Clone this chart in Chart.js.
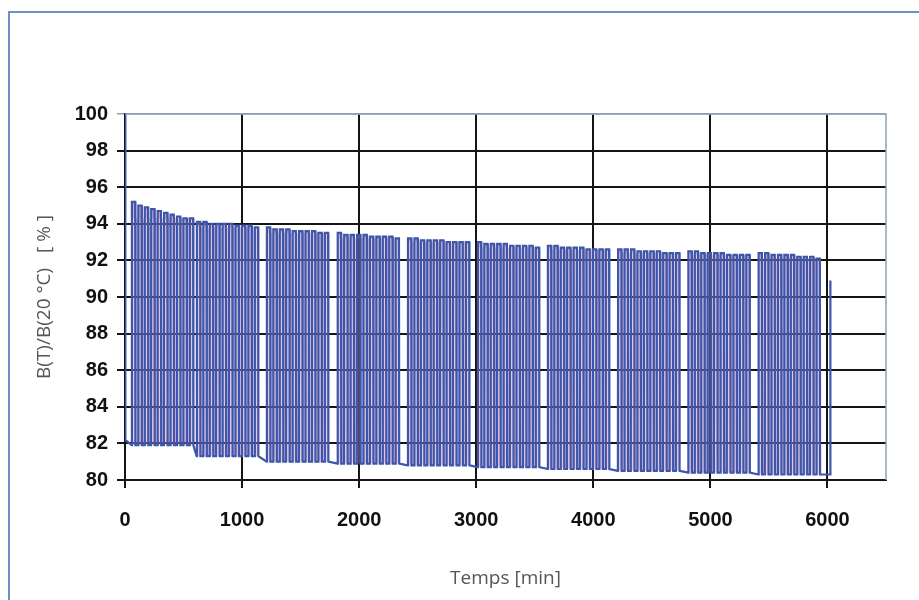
<!DOCTYPE html>
<html>
<head>
<meta charset="utf-8">
<script src="https://cdn.jsdelivr.net/npm/chart.js@4.4.1/dist/chart.umd.min.js"></script>
<style>
  html, body { margin: 0; padding: 0; background: #fff; }
  #wrap { position: relative; width: 919px; height: 600px; overflow: hidden; }
  #frame { position: absolute; left: 8px; top: 11px; width: 1000px; height: 1000px; border: 2px solid #6f8fc8; }
  #chart { position: absolute; left: 0; top: 0; }
</style>
</head>
<body>
<div id="wrap">
  <div id="frame"></div>
  <canvas id="chart" width="919" height="600"></canvas>
</div>
<script>
// Axis ticks
const xTicks = [0, 1000, 2000, 3000, 4000, 5000, 6000];

// Start of each block of cycles (min) and position of each cycle inside a block
const blockStarts = [57, 612, 1210, 1815, 2415, 3012, 3610, 4210, 4810, 5410];
const cycleOffsets = [0, 55, 110, 165, 220, 275, 330, 385, 440, 495];

// Peak of every cycle, one row per block (%)
const peakValues = [
  [95.2, 95.0, 94.9, 94.8, 94.7, 94.6, 94.5, 94.4, 94.3, 94.3],
  [94.1, 94.1, 94.0, 94.0, 94.0, 94.0, 93.9, 93.9, 93.9, 93.8],
  [93.8, 93.7, 93.7, 93.7, 93.6, 93.6, 93.6, 93.6, 93.5, 93.5],
  [93.5, 93.4, 93.4, 93.4, 93.4, 93.3, 93.3, 93.3, 93.3, 93.2],
  [93.2, 93.2, 93.1, 93.1, 93.1, 93.1, 93.0, 93.0, 93.0, 93.0],
  [93.0, 92.9, 92.9, 92.9, 92.9, 92.8, 92.8, 92.8, 92.8, 92.7],
  [92.8, 92.8, 92.7, 92.7, 92.7, 92.7, 92.6, 92.6, 92.6, 92.6],
  [92.6, 92.6, 92.6, 92.5, 92.5, 92.5, 92.5, 92.4, 92.4, 92.4],
  [92.5, 92.5, 92.4, 92.4, 92.4, 92.4, 92.3, 92.3, 92.3, 92.3],
  [92.4, 92.4, 92.3, 92.3, 92.3, 92.3, 92.2, 92.2, 92.2, 92.1]
];
// Low level of each block (%)
const lowValues = [81.9, 81.3, 81.0, 80.9, 80.8, 80.7, 80.6, 80.5, 80.4, 80.3];

// First and last readings
const startReadings = [{ x: 0, y: 100 }, { x: 3, y: 82.2 }];
const endReadings = [{ x: 6022, y: 80.3 }, { x: 6025, y: 90.9 }];

// One list of points per block (rise, plateau, fall for each cycle)
const blockPoints = blockStarts.map((start, b) => {
  const pts = [];
  cycleOffsets.forEach((off, i) => {
    const t = start + off;
    pts.push(
      { x: t, y: lowValues[b] },
      { x: t + 2, y: peakValues[b][i] },
      { x: t + 30, y: peakValues[b][i] },
      { x: t + 32, y: lowValues[b] }
    );
  });
  return pts;
});
const points = [...startReadings, ...blockPoints.flat(), ...endReadings];

// Thin border on the top and right side of the plot
const plotFrame = {
  id: "plotFrame",
  afterDraw(chart) {
    const { ctx, chartArea: a } = chart;
    ctx.save();
    ctx.strokeStyle = "#8fa2b4";
    ctx.lineWidth = 1.5;
    ctx.beginPath();
    ctx.moveTo(a.left, a.top);
    ctx.lineTo(a.right, a.top);
    ctx.lineTo(a.right, a.bottom);
    ctx.stroke();
    ctx.restore();
  }
};

const tickFont = { family: "'Liberation Sans', Arial, sans-serif", size: 20, weight: "bold" };
const titleFont = { family: "'Open Sans', sans-serif", size: 19 };
const tint = "rgba(190, 118, 178, 0.42)";

// Tinted area inside each block (under the pulses and between them), drawn under the trace
const fillSets = [];
blockPoints.forEach((pts, b) => {
  const base = { data: pts, borderWidth: 0, pointRadius: 0, backgroundColor: tint, tension: 0, order: 2 };
  fillSets.push({ ...base, fill: { value: lowValues[b] } });
  fillSets.push({ ...base, fill: { value: Math.min(...peakValues[b]) } });
});

new Chart(document.getElementById("chart"), {
  type: "line",
  data: {
    datasets: [{
      data: points,
      borderColor: "#3b56aa",
      borderWidth: 2.2,
      pointRadius: 0,
      fill: false,
      tension: 0,
      order: 1
    }, ...fillSets]
  },
  options: {
    responsive: false,
    animation: false,
    layout: { padding: { top: 114, right: 33, left: 0, bottom: 0 } },
    plugins: { legend: { display: false }, tooltip: { enabled: false } },
    scales: {
      x: {
        type: "linear",
        min: 0,
        max: 6500,
        afterFit: s => { s.height = 120; },
        afterBuildTicks: s => { s.ticks = xTicks.map(v => ({ value: v })); },
        ticks: { font: tickFont, color: "#111", padding: 20, maxRotation: 0, callback: v => String(v) },
        grid: { color: "#151515", lineWidth: 2, tickLength: 8 },
        border: { color: "#151515", width: 2 },
        title: { display: true, text: "Temps [min]", font: titleFont, color: "#555", padding: { top: 0, bottom: 10 } }
      },
      y: {
        min: 80,
        max: 100,
        afterFit: s => { s.width = 125; },
        ticks: { stepSize: 2, font: tickFont, color: "#111", padding: 9 },
        grid: {
          color: c => (c.tick && c.tick.value === 100 ? "#8fa2b4" : "#151515"),
          lineWidth: c => (c.tick && c.tick.value === 100 ? 1.5 : 2),
          tickLength: 8
        },
        border: { color: "#151515", width: 2 },
        title: { display: true, text: "B(T)/B(20 °C)   [ % ]", font: titleFont, color: "#555", padding: { top: 33, bottom: 0 } }
      }
    }
  },
  plugins: [plotFrame]
});
</script>
</body>
</html>
